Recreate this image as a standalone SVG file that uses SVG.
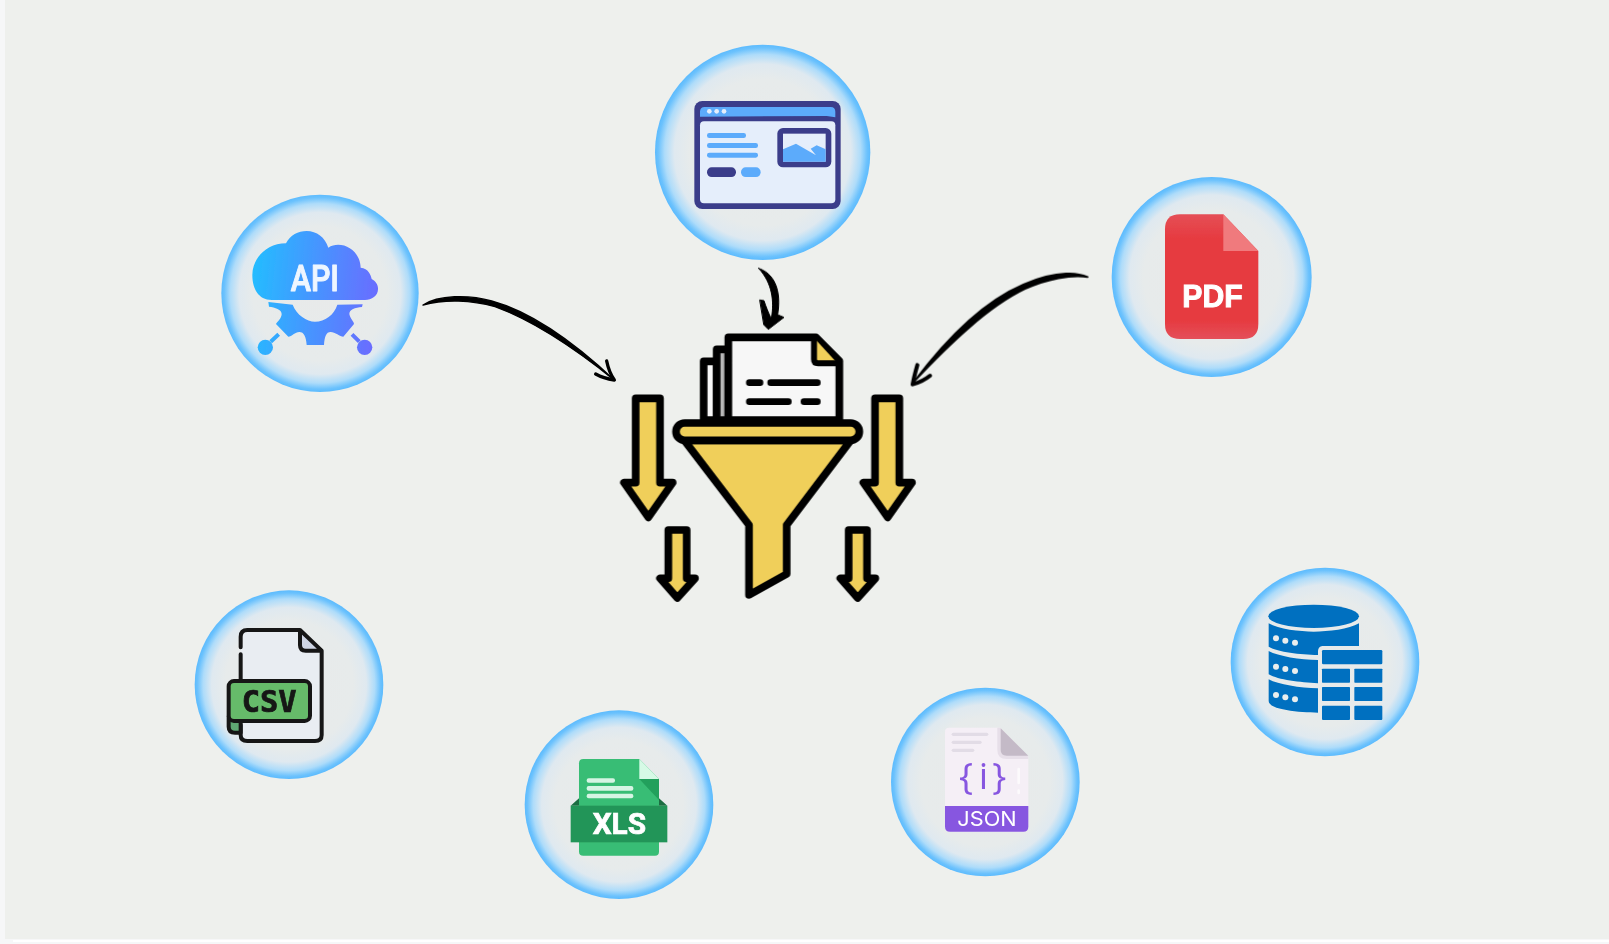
<svg xmlns="http://www.w3.org/2000/svg" width="1609" height="944" viewBox="0 0 1609 944">
<style>
.ink{stroke:#050505;stroke-width:23;stroke-linejoin:round;stroke-linecap:round}
.yel{fill:#f0cf5a}
.web{fill:#3b3d8a}.wb{fill:#5cabfb}.wl{fill:#e5eefb}
.db{fill:#0070c0}.dot{fill:#e9eeee}
.csvl{stroke:#151515;stroke-width:12;stroke-linejoin:round;stroke-linecap:round}
.xl{fill:#d6f5e4}.jl{fill:#e2dce6}
.lab{font-family:"Liberation Sans",Arial,sans-serif;font-weight:700;fill:#fff}
.arrow{stroke:#000;stroke-linejoin:round;stroke-linecap:round}
.halo{filter:url(#haloblur)}
</style>
<defs>
<radialGradient id="halo">
<stop offset="0" stop-color="#e8eaea"/>
<stop offset=".68" stop-color="#e7ebeb"/>
<stop offset=".82" stop-color="#dfe9f0"/>
<stop offset=".91" stop-color="#aedcfa"/>
<stop offset=".97" stop-color="#6cc2fd"/>
<stop offset="1" stop-color="#5cbbfe"/>
</radialGradient>
<linearGradient id="apig" gradientUnits="userSpaceOnUse" x1="157" y1="300" x2="535" y2="340">
<stop offset="0" stop-color="#24bcff"/><stop offset="1" stop-color="#6a6cff"/>
</linearGradient>
<linearGradient id="pdfg" x1="0" y1="0" x2="0" y2="1">
<stop offset="0" stop-color="#e54f56"/><stop offset=".2" stop-color="#e63a40"/><stop offset=".85" stop-color="#e63a40"/><stop offset="1" stop-color="#e4505a"/>
</linearGradient>
<filter id="soft" x="-5%" y="-5%" width="110%" height="110%"><feGaussianBlur stdDeviation="1.2"/></filter>
<filter id="haloblur" x="-5%" y="-5%" width="110%" height="110%"><feGaussianBlur stdDeviation="1.6"/></filter>
<filter id="line" x="-5%" y="-5%" width="110%" height="110%"><feGaussianBlur stdDeviation=".35"/></filter>
</defs>

<rect width="1609" height="944" fill="#f6f7f8"/>
<rect x="5" y="0" width="1604" height="939" fill="#eef0ed"/>
<rect x="13" y="940" width="1596" height="2" fill="#fff"/>

<g id="connectors" filter="url(#line)">
<g transform="translate(415,285) scale(.33333)">
<path class="arrow" stroke-width="4" d="M24,60C70,30 160,28 230,48C340,78 470,165 600,287C480,190 350,105 240,65C170,45 90,42 24,60Z"/>
<path class="arrow" d="M575,228Q582,262 598,285Q565,280 542,267" fill="none" stroke-width="10"/>
</g>
<g transform="translate(900,265) scale(.33333)">
<path class="arrow" stroke-width="5" d="M563,36C510,15 440,28 370,58C260,105 150,205 40,352C150,235 265,125 375,72C440,42 515,28 563,36Z"/>
<path class="arrow" d="M52,300Q42,335 38,358Q68,350 90,332" fill="none" stroke-width="12"/>
</g>
<g transform="translate(740,260) scale(.33333)">
<path class="arrow" stroke-width="3" d="M56,25C98,38 128,85 112,170L85,205L95,170C102,125 98,70 56,25Z"/>
<path class="arrow" stroke-width="3" d="M60,120L72,122C78,140 85,158 92,172L115,165L132,172L85,208L72,195Z"/>
</g>
</g>

<g id="node-web" transform="translate(620,30) scale(.33333)" filter="url(#soft)">
<circle class="halo" cx="428" cy="367" r="323" fill="url(#halo)"/>
<rect x="223" y="213" width="439" height="324" rx="24" class="web"/>
<path d="M240,260V245Q240,231 254,231H632Q646,231 646,245V262L620,258Z" class="wb"/>
<rect x="240" y="274" width="406" height="246" rx="12" class="wl"/>
<circle cx="268" cy="244" r="7" class="wl"/><circle cx="290" cy="244" r="7" class="wl"/><circle cx="312" cy="244" r="7" class="wl"/>
<rect x="261" y="309" width="117" height="15" rx="7" class="wb"/>
<rect x="261" y="339" width="153" height="15" rx="7" class="wb"/>
<rect x="261" y="368" width="153" height="15" rx="7" class="wb"/>
<rect x="261" y="412" width="87" height="29" rx="14" class="web"/>
<rect x="363" y="412" width="59" height="29" rx="14" class="wb"/>
<rect x="472" y="294" width="162" height="118" rx="17" class="web"/>
<rect x="489" y="311" width="128" height="84" class="wl"/>
<path d="M489,358L528,341L588,376L572,356L590,346L617,358V395H489Z" class="wb"/>
</g>

<g id="node-api" transform="translate(200,180) scale(.33333)" filter="url(#soft)">
<circle class="halo" cx="360" cy="340" r="296" fill="url(#halo)"/>
<g fill="url(#apig)">
<path d="M215,360C175,360 157,325 157,285C157,235 200,190 258,190C270,165 295,153 320,153C350,153 375,172 385,203C420,180 480,205 482,263C505,265 513,285 515,297C530,305 535,318 534,328C534,348 515,360 495,360Z"/>
<path d="M205,366L278,374C290,405 320,425 345,425C375,425 402,405 412,374L488,373L486,381C465,383 448,388 448,402C450,415 462,425 462,432L430,470C420,470 405,456 392,456C378,456 374,470 372,495L320,495C318,470 312,456 298,456C285,456 275,470 265,470L228,432C232,425 245,415 245,402C245,388 225,382 207,380Z"/>
<circle cx="196" cy="502" r="23"/><circle cx="494" cy="502" r="23"/>
<path d="M212,485L236,463M478,485L456,463" stroke="url(#apig)" stroke-width="12"/>
</g>
<text x="272" y="332" font-family="Roboto,'Liberation Sans',sans-serif" font-size="112" font-weight="500" fill="#eef6ff" stroke="#eef6ff" stroke-width="3" stroke-linejoin="round" textLength="145" lengthAdjust="spacingAndGlyphs">API</text>
</g>

<g id="node-pdf" transform="translate(1100,170) scale(.33333)" filter="url(#soft)">
<circle class="halo" cx="335" cy="321" r="300" fill="url(#halo)"/>
<path d="M240,133H370L475,243V462Q475,507 430,507H240Q195,507 195,462V178Q195,133 240,133Z" fill="url(#pdfg)"/>
<path d="M370,133L475,243H370Z" fill="#f07a7d"/>
<text x="247" y="412" class="lab" font-size="93" stroke="#fff" stroke-width="3" textLength="181" lengthAdjust="spacingAndGlyphs">PDF</text>
</g>

<g id="node-funnel" transform="translate(600,260) scale(.33333)" filter="url(#soft)">
<path d="M311,480V304H350V480Z" fill="#f7f7f7" class="ink"/>
<path d="M350,480V268H385V480Z" fill="#b9b9b9" class="ink"/>
<path d="M385,480V232H648L718,303V480Z" fill="#f7f7f7" class="ink"/>
<path d="M642,240V298Q642,310 654,310H712L648,240Z" class="yel"/>
<path d="M642,240V298Q642,310 654,310H712" fill="none" class="ink" style="stroke-width:18"/>
<path d="M448,368H480M512,368H652M448,425H565M612,425H652" fill="none" class="ink" style="stroke-width:20"/>
<path d="M253,541L447,795V1005L560,942V795L752,541Z" class="yel ink"/>
<rect x="228" y="489" width="550" height="52" rx="26" class="yel ink"/>
<path d="M107,415H180V668H218L145,772L72,668H107Z" class="yel ink"/>
<path d="M825,415H898V668H936L863,772L790,668H825Z" class="yel ink"/>
<path d="M205,810H260V955H285L232,1014L180,955H205Z" class="yel ink"/>
<path d="M746,810H801V955H826L773,1014L721,955H746Z" class="yel ink"/>
</g>

<g id="node-csv" transform="translate(190,585) scale(.33333)" filter="url(#soft)">
<circle class="halo" cx="297" cy="299" r="283" fill="url(#halo)"/>
<path d="M172,135H330L395,197V450Q395,468 375,468H172Q152,468 152,450V155Q152,135 172,135Z" fill="#e9edf2"/>
<path d="M330,135L395,197H347Q330,197 330,180Z" fill="#ced4e3"/>
<path d="M152,187V155Q152,135 172,135H330L395,197V450Q395,468 375,468H172Q152,468 152,450V420M152,208V290M330,135V180Q330,197 347,197H395" fill="none" class="csvl"/>
<path d="M116,395V425Q116,443 135,443H152V408Z" fill="#5fa873" class="csvl"/>
<rect x="116" y="288" width="244" height="120" rx="16" fill="#66bb6a" class="csvl"/>
<text x="155" y="380" font-family="'DejaVu Sans Mono','Liberation Mono',monospace" font-weight="700" font-size="88" fill="#151515" stroke="#151515" stroke-width="2" textLength="165" lengthAdjust="spacingAndGlyphs">CSV</text>
</g>

<g id="node-xls" transform="translate(520,705) scale(.33333)" filter="url(#soft)">
<circle class="halo" cx="297" cy="299" r="283" fill="url(#halo)"/>
<path d="M190,162H358L417,222V440Q417,452 405,452H190Q177,452 177,440V175Q177,162 190,162Z" fill="#39bd75"/>
<path d="M358,162L417,222H358Z" fill="#d6fae6"/>
<path d="M358,222H417V285Z" fill="#22a05b"/>
<rect x="200" y="220" width="85" height="13" rx="6" class="xl"/>
<rect x="200" y="243" width="140" height="14" rx="6" class="xl"/>
<rect x="200" y="266" width="140" height="14" rx="6" class="xl"/>
<path d="M152,302L177,280V302ZM417,280L442,302H417Z" fill="#1b6e42"/>
<rect x="152" y="302" width="290" height="110" fill="#249558"/>
<text x="218" y="388" font-family="Roboto,'Liberation Sans',sans-serif" font-weight="700" font-size="88" fill="#fff" stroke="#fff" stroke-width="2" textLength="160" lengthAdjust="spacingAndGlyphs">XLS</text>
</g>

<g id="node-json" transform="translate(885,685) scale(.33333)" filter="url(#soft)">
<circle class="halo" cx="301" cy="291" r="283" fill="url(#halo)"/>
<path d="M192,128H345L430,215V425Q430,440 415,440H195Q180,440 180,425V140Q180,128 192,128Z" fill="#f5eff6"/>
<path d="M337,128V195Q337,222 365,222H430V215L345,128Z" fill="#e7dfe9"/>
<path d="M347,130L430,212H365Q347,212 347,195Z" fill="#c4bac7"/>
<rect x="200" y="143" width="110" height="10" rx="5" class="jl"/>
<rect x="200" y="167" width="90" height="10" rx="5" class="jl"/>
<rect x="200" y="191" width="68" height="10" rx="5" class="jl"/>
<rect x="397" y="248" width="8" height="50" rx="4" fill="#fff" opacity=".7"/>
<rect x="397" y="313" width="8" height="15" rx="4" fill="#fff" opacity=".7"/>
<text y="312" font-family="'Open Sans','Liberation Sans',sans-serif" font-size="112" fill="#8756e0" x="222 281 322">{i}</text>
<path d="M180,363H430V425Q430,440 415,440H195Q180,440 180,425Z" fill="#8756e0"/>
<text x="217" y="423" font-family="Inter,'Liberation Sans',sans-serif" font-size="62" fill="#fff" textLength="178" lengthAdjust="spacingAndGlyphs">JSON</text>
</g>

<g id="node-db" transform="translate(1225,565) scale(.33333)" filter="url(#soft)">
<circle class="halo" cx="300" cy="291" r="283" fill="url(#halo)"/>
<ellipse cx="266" cy="154" rx="136" ry="35" class="db"/>
<path d="M131,175C160,193 225,200 266,200C310,200 372,193 402,175V243H292Q280,245 279,258V270C225,268 160,262 131,245Z" class="db"/>
<path d="M131,258C160,274 225,284 279,285V355C225,352 160,345 131,328Z" class="db"/>
<path d="M131,343C160,359 225,369 279,370V443C225,442 131,435 131,408Z" class="db"/>
<g class="dot">
<circle cx="153" cy="220" r="9"/><circle cx="181" cy="227" r="9"/><circle cx="210" cy="233" r="9"/>
<circle cx="153" cy="305" r="9"/><circle cx="181" cy="312" r="9"/><circle cx="210" cy="318" r="9"/>
<circle cx="153" cy="390" r="9"/><circle cx="181" cy="397" r="9"/><circle cx="210" cy="403" r="9"/>
</g>
<g class="db">
<rect x="291" y="255" width="181" height="43" rx="4"/>
<rect x="291" y="311" width="84" height="42" rx="2"/><rect x="388" y="311" width="84" height="42" rx="2"/>
<rect x="291" y="366" width="84" height="42" rx="2"/><rect x="388" y="366" width="84" height="42" rx="2"/>
<rect x="291" y="422" width="84" height="43" rx="3"/><rect x="388" y="422" width="84" height="43" rx="3"/>
</g>
</g>
</svg>
